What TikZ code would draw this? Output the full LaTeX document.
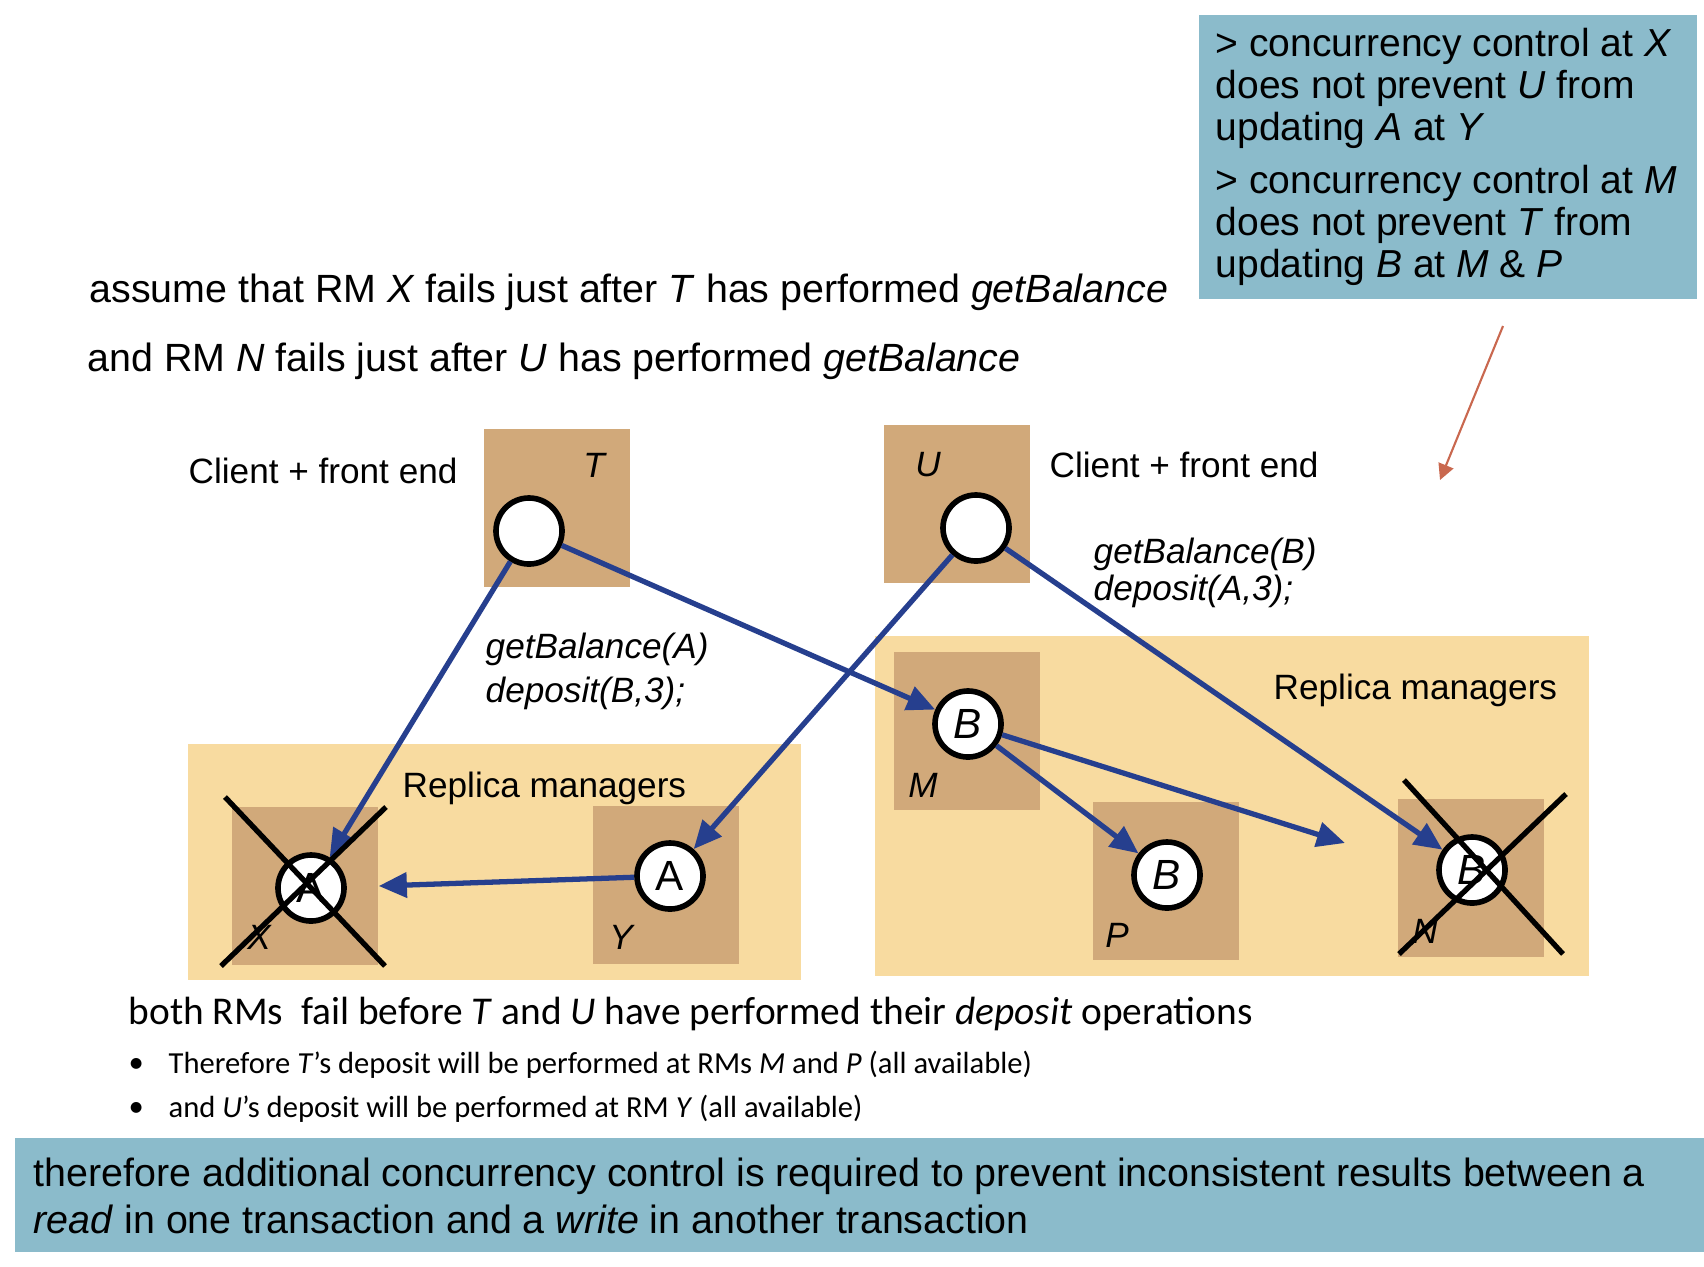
\documentclass[tikz,border=0pt]{standalone}
\usepackage{fontspec}
\setmainfont{Liberation Sans}
\newfontfamily\calibri{Carlito}
\usetikzlibrary{arrows.meta}

\definecolor{rmpale}{HTML}{F8DBA0}
\definecolor{rmtan}{HTML}{D1A97A}
\definecolor{noteblue}{HTML}{8BBBCB}
\definecolor{callblue}{HTML}{263F8E}
\definecolor{hintred}{HTML}{C9684F}

\tikzset{
  site/.style={fill=rmtan, inner sep=0pt, minimum width=1.46cm, minimum height=1.57cm},
  obj/.style={circle, draw, line width=1.6pt, fill=white, inner sep=0pt, minimum size=0.66cm, font=\fontsize{12}{14}\selectfont},
  call/.style={callblue, line width=1.5pt, -{Triangle[length=8pt,width=7pt]}},
  failed/.style={line width=1.5pt},
  plain/.style={inner sep=0pt, anchor=west, font=\fontsize{10}{12}\selectfont},
  tag/.style={inner sep=0pt, font=\fontsize{10}{12}\selectfont\itshape},
}

\begin{document}
\begin{tikzpicture}[x=0.01cm, y=-0.01cm]
\useasboundingbox (0,0) rectangle (1704,1266);

% note boxes
\fill[noteblue] (1199,15) rectangle (1697,299);
\fill[noteblue] (15,1138) rectangle (1704,1252);

% replica manager groups
\fill[rmpale] (188,744) rectangle (801,980);
\fill[rmpale] (875,636) rectangle (1589,976);

% sites
\node[site] (T) at (557,508) {};
\node[site] (U) at (957,504) {};
\node[site] (X) at (305,886) {};
\node[site] (Y) at (666,885) {};
\node[site] (M) at (967,731) {};
\node[site] (P) at (1166,881) {};
\node[site] (N) at (1471,878) {};

\foreach \n/\x/\y in {T/594/465, U/928/465, X/259/937, Y/621/937, M/923/785, P/1117/935, N/1425/931}
  \node[tag] (tag\n) at (\x,\y) {\n};

% objects
\node[obj] (ct) at (529,531) {};
\node[obj] (cu) at (976,528) {};
\node[obj] (ax) at (311,888) {A};
\node[obj] (ay) at (670,876) {A};
\node[obj] (bm) at (968,724) {\itshape B};
\node[obj] (bp) at (1167,875) {\itshape B};
\node[obj] (bn) at (1472,870) {\itshape B};

\coordinate (lost) at (1345,843);
\draw[call] (ct) -- (ax);
\draw[call] (ct) -- (bm);
\draw[call] (cu) -- (ay);
\draw[call] (cu) -- (bn);
\draw[call] (ay) -- (X.east);
\draw[call] (bm) -- (bp);
\draw[call] (bm) -- (lost);

% failed RMs
\draw[failed] (225,797) -- (385,966) (221,966) -- (386,807);
\draw[failed] (1404,780) -- (1563,954) (1399,954) -- (1566,794);

\coordinate (hinttop) at (1503,326);
\coordinate (hintend) at (1440,480);
\draw[hintred, line width=0.6pt, -{Triangle[length=4.5pt,width=4.5pt]}] (hinttop) -- (hintend);

% texts
\node[plain, font=\fontsize{11.2}{13}\selectfont] (assume) at (89,292) {assume that RM \textit{X} fails just after \textit{T} has performed \textit{getBalance}};
\node[plain, font=\fontsize{11.2}{13}\selectfont] (andrm) at (87,361) {and RM \textit{N} fails just after \textit{U} has performed \textit{getBalance}};
\node[plain] (cfeT) at (188,471) {Client + front end};
\node[plain] (cfeU) at (1049,465) {Client + front end};
\node[plain, align=left, font=\fontsize{10}{12.5}\selectfont\itshape] (opsT) at (485,671) {getBalance(A)\\deposit(B,3);};
\node[plain, align=left, font=\fontsize{10}{10.5}\selectfont\itshape] (opsU) at (1093,573) {getBalance(B)\\ deposit(A,3);};
\node[plain] (rmsX) at (402,788) {Replica managers};
\node[plain] (rmsN) at (1273,690) {Replica managers};

\node[plain, align=left, font=\fontsize{11.1}{12}\selectfont] (ccnote) at (1215,157)
  {> concurrency control at \textit{X}\\ does not prevent \textit{U} from\\ updating \textit{A} at \textit{Y}\\[3pt]
   > concurrency control at \textit{M}\\ does not prevent \textit{T} from\\ updating \textit{B} at \textit{M} \& \textit{P}};

\node[plain, font=\fontsize{11.2}{13}\calibri] (both) at (128,1014) {both RMs\ \ fail before \textit{T} and \textit{U} have performed their \textit{deposit} operations};
\node[plain, font=\fontsize{8.7}{10}\calibri] (dot1) at (128,1065) {•};
\node[plain, font=\fontsize{8.7}{10}\calibri] (why1) at (168,1065) {Therefore \textit{T}’s deposit will be performed at RMs \textit{M} and \textit{P} (all available)};
\node[plain, font=\fontsize{8.7}{10}\calibri] (dot2) at (128,1109) {•};
\node[plain, font=\fontsize{8.7}{10}\calibri] (why2) at (168,1109) {and \textit{U}’s deposit will be performed at RM \textit{Y} (all available)};

\node[plain, align=left, font=\fontsize{11.2}{13.4}\selectfont] (concl) at (33,1196)
  {therefore additional concurrency control is required to prevent inconsistent results between a\\
   \textit{read} in one transaction and a \textit{write} in another transaction};

\end{tikzpicture}
\end{document}
